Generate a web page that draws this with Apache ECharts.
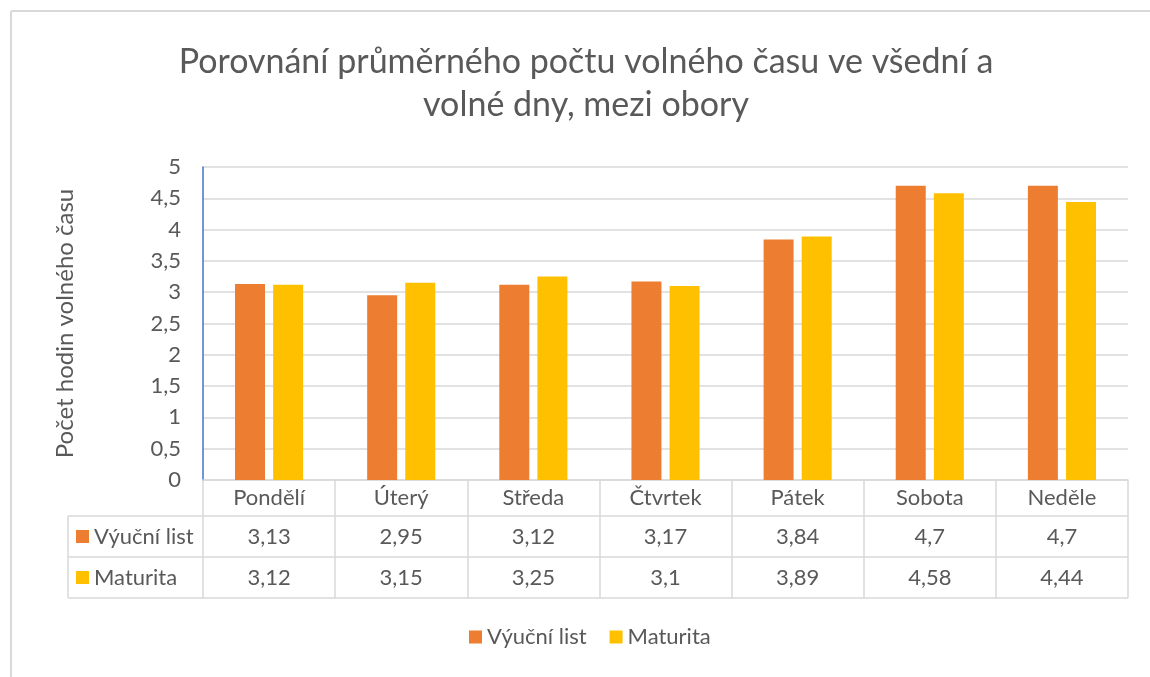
<!DOCTYPE html>
<html>
<head>
<meta charset="utf-8">
<script src="https://cdn.jsdelivr.net/npm/echarts@6/dist/echarts.min.js"></script>
<style>
html,body{margin:0;padding:0;background:#fff;}
#c{width:1150px;height:677px;}
</style>
</head>
<body>
<div id="c"></div>
<script>
const categories = ['Pondělí', 'Úterý', 'Středa', 'Čtvrtek', 'Pátek', 'Sobota', 'Neděle'];
const seriesNames = ['Výuční list', 'Maturita'];
const vyucniList = [3.13, 2.95, 3.12, 3.17, 3.84, 4.7, 4.7];
const maturita = [3.12, 3.15, 3.25, 3.1, 3.89, 4.58, 4.44];
const titleText = 'Porovnání průměrného počtu volného času ve všední a\nvolné dny, mezi obory';
const yAxisName = 'Počet hodin volného času';

const FONT = 'Lato';
const TXT = '#595959';
const LINE = '#D9D9D9';
const FS = 22;
const fmt = v => String(v).replace('.', ',');

// layout
const G = {left: 203, right: 1128, top: 167, bottom: 480};
const rowH = [36, 41, 41];
const tableLeft = 68;
const r1 = G.bottom + rowH[0], r2 = r1 + rowH[1], r3 = r2 + rowH[2];

const chart = echarts.init(document.getElementById('c'));
chart.setOption({
  animation: false,
  textStyle: {fontFamily: FONT, color: TXT},
  legend: [
    {
      data: seriesNames,
      left: 469, top: 637 - FS / 2, padding: 0,
      itemWidth: 13, itemHeight: 13, itemGap: 23,
      icon: 'rect', selectedMode: false,
      textStyle: {fontFamily: FONT, fontSize: FS, color: TXT, lineHeight: FS}
    },
    {
      data: seriesNames,
      orient: 'vertical', padding: 0,
      left: 76, top: r1 + rowH[1] / 2 - FS / 2,
      itemWidth: 13, itemHeight: 13, itemGap: rowH[1] - FS,
      icon: 'rect', selectedMode: false,
      textStyle: {fontFamily: FONT, fontSize: FS, color: TXT, lineHeight: FS}
    }
  ],
  grid: {left: G.left, right: 1150 - G.right, top: G.top, bottom: 677 - G.bottom, containLabel: false},
  xAxis: {
    type: 'category',
    data: categories,
    axisLine: {show: true, lineStyle: {color: LINE, width: 1.5}},
    axisTick: {show: true, interval: 0, length: r3 - G.bottom, lineStyle: {color: LINE, width: 1.5}},
    axisLabel: {
      interval: 0, margin: 0,
      formatter: (value, idx) => `{h|${value}}\n{v|${fmt(vyucniList[idx])}}\n{v|${fmt(maturita[idx])}}`,
      rich: {
        h: {fontFamily: FONT, fontSize: FS, color: TXT, lineHeight: rowH[0], height: rowH[0]},
        v: {fontFamily: FONT, fontSize: FS, color: TXT, lineHeight: rowH[1], height: rowH[1]}
      }
    }
  },
  yAxis: {
    type: 'value',
    min: 0, max: 5, interval: 0.5,
    name: yAxisName,
    nameLocation: 'middle',
    nameGap: 126,
    nameRotate: 90,
    nameTextStyle: {fontFamily: FONT, fontSize: 24, color: TXT},
    axisLine: {show: true, lineStyle: {color: '#4472C4', width: 1.5}},
    axisTick: {show: false},
    axisLabel: {fontFamily: FONT, fontSize: FS, color: TXT, margin: 22, formatter: v => fmt(v)},
    splitLine: {show: true, lineStyle: {color: LINE, width: 1.5}}
  },
  series: [
    {name: seriesNames[0], type: 'bar', data: vyucniList, barWidth: 30, barGap: '27%', itemStyle: {color: '#ED7D31'}},
    {name: seriesNames[1], type: 'bar', data: maturita, barWidth: 30, barGap: '27%', itemStyle: {color: '#FFC000'}}
  ],
  graphic: [
    {type: 'text', x: 586, y: 40.5, silent: true,
      style: {text: titleText, align: 'center', verticalAlign: 'top', fill: TXT,
        font: `normal 34px ${FONT}`, lineHeight: 43}},
    {type: 'line', shape: {x1: 11, y1: 11, x2: 1150, y2: 11}, style: {stroke: LINE, lineWidth: 2}, silent: true},
    {type: 'line', shape: {x1: 11, y1: 11, x2: 11, y2: 677}, style: {stroke: LINE, lineWidth: 2}, silent: true},
    {type: 'line', shape: {x1: tableLeft, y1: r1, x2: G.right, y2: r1}, style: {stroke: LINE, lineWidth: 1.5}, silent: true},
    {type: 'line', shape: {x1: tableLeft, y1: r2, x2: G.right, y2: r2}, style: {stroke: LINE, lineWidth: 1.5}, silent: true},
    {type: 'line', shape: {x1: tableLeft, y1: r3, x2: G.right, y2: r3}, style: {stroke: LINE, lineWidth: 1.5}, silent: true},
    {type: 'line', shape: {x1: tableLeft, y1: r1, x2: tableLeft, y2: r3}, style: {stroke: LINE, lineWidth: 1.5}, silent: true}
  ]
});
</script>
</body>
</html>
